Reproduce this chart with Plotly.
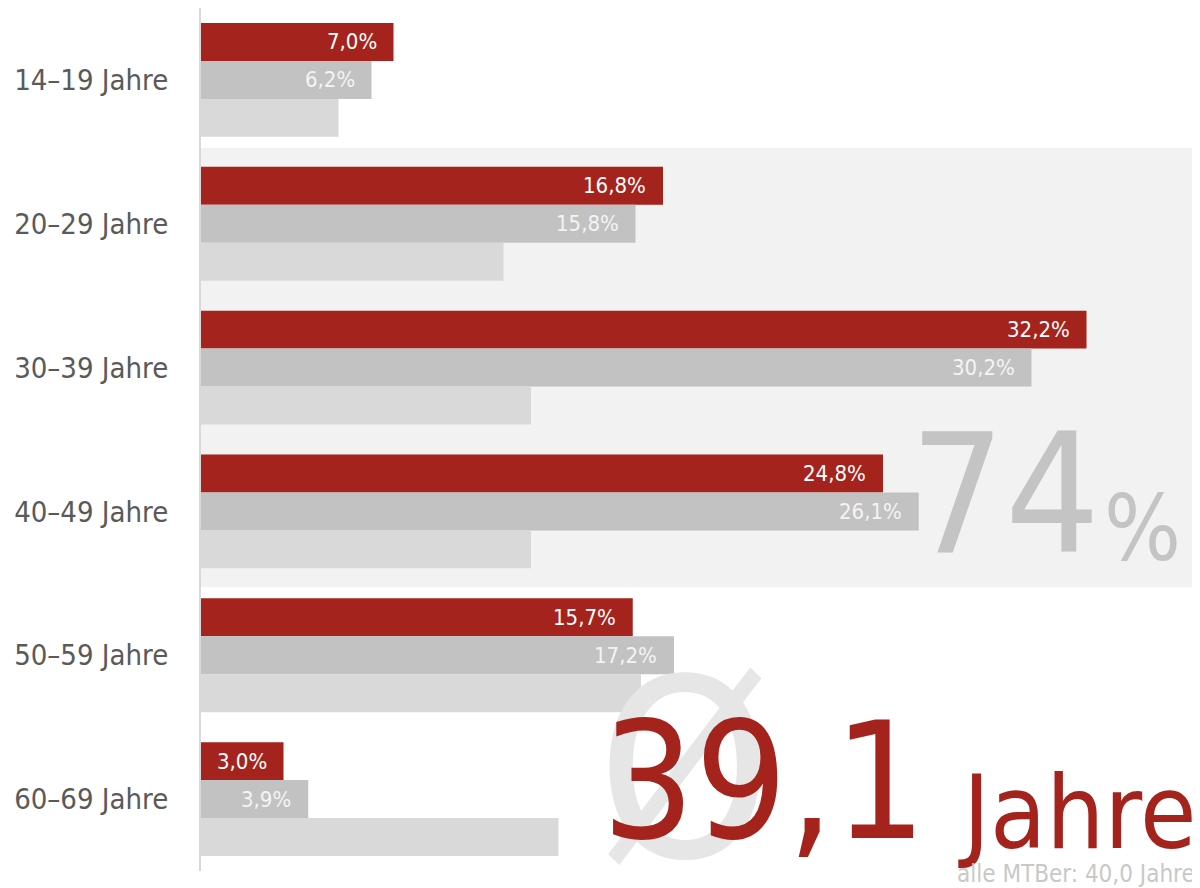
import plotly.graph_objects as go

categories = ["14–19 Jahre", "20–29 Jahre", "30–39 Jahre", "40–49 Jahre", "50–59 Jahre", "60–69 Jahre"]
series_red = [7.0, 16.8, 32.2, 24.8, 15.7, 3.0]
series_gray = [6.2, 15.8, 30.2, 26.1, 17.2, 3.9]
series_light = [5.0, 11.0, 12.0, 12.0, 16.0, 13.0]
labels_red = ["7,0%", "16,8%", "32,2%", "24,8%", "15,7%", "3,0%"]
labels_gray = ["6,2%", "15,8%", "30,2%", "26,1%", "17,2%", "3,9%"]

RED = "#a5231d"
GRAY = "#c2c2c2"
LIGHT = "#d9d9d9"
FONT = "DejaVu Sans Condensed, Roboto, sans-serif"

# the page body adds an 8px margin, so the figure is sized to fit the window
OFF = 8
W, H = 1200 - OFF, 888 - OFF
ML, MT = 201 - OFF, 0
MR, MB = 0, 17
PW, PH = W - ML - MR, H - MT - MB
SCALE = 27.5  # px per percent
XMAX = PW / SCALE

def px(x):  # page pixel -> paper x
    return (x - OFF - ML) / PW

def py(y):  # page pixel -> paper y
    return 1 - (y - OFF - MT) / PH

fig = go.Figure()
for vals, col in [(series_red, RED), (series_gray, GRAY), (series_light, LIGHT)]:
    fig.add_trace(go.Bar(y=categories, x=vals, orientation="h", marker=dict(color=col, line=dict(width=0)),
                         hoverinfo="skip", showlegend=False))

annotations = []
annotations.append(dict(x=px(685), y=py(770), xref="paper", yref="paper", text="Ø", showarrow=False,
                        xanchor="center", yanchor="middle", font=dict(family=FONT, size=248, color="#e6e6e6")))

off = (1 - 0.2083) / 3
for i in range(len(categories)):
    annotations.append(dict(x=series_red[i], y=i - off, xref="x", yref="y", text=labels_red[i],
                            xanchor="right", yanchor="middle", xshift=-15, showarrow=False,
                            font=dict(family=FONT, size=22, color="white")))
    annotations.append(dict(x=series_gray[i], y=i, xref="x", yref="y", text=labels_gray[i],
                            xanchor="right", yanchor="middle", xshift=-15, showarrow=False,
                            font=dict(family=FONT, size=22, color="#f4f4f4")))

annotations.append(dict(x=px(1102), y=py(494), xref="paper", yref="paper", text="74", showarrow=False,
                        xanchor="right", yanchor="middle", font=dict(family=FONT, size=166, color="#c4c4c4")))
annotations.append(dict(x=px(1183), y=py(528), xref="paper", yref="paper", text="%", showarrow=False,
                        xanchor="right", yanchor="middle", font=dict(family=FONT, size=90, color="#c4c4c4")))
annotations.append(dict(x=px(928), y=py(782), xref="paper", yref="paper", text="39,1", showarrow=False,
                        xanchor="right", yanchor="middle", font=dict(family=FONT, size=162, color=RED)))
annotations.append(dict(x=px(1198), y=py(812), xref="paper", yref="paper", text="Jahre", showarrow=False,
                        xanchor="right", yanchor="middle", font=dict(family=FONT, size=102, color=RED)))
annotations.append(dict(x=px(1197), y=py(874), xref="paper", yref="paper", text="alle MTBer: 40,0 Jahre",
                        showarrow=False, xanchor="right", yanchor="middle",
                        font=dict(family=FONT, size=24, color="#c8c8c8")))

shapes = [dict(type="rect", xref="x", yref="y", x0=0, x1=(1195 - OFF - ML) / SCALE, y0=0.472, y1=3.528,
               fillcolor="#f2f2f2", line=dict(width=0), layer="below")]

fig.update_layout(
    width=W, height=H, margin=dict(l=ML, r=MR, t=MT, b=MB, autoexpand=False),
    paper_bgcolor="white", plot_bgcolor="white",
    barmode="group", bargap=0.2083, bargroupgap=0,
    xaxis=dict(range=[0, XMAX], showgrid=False, zeroline=False, showticklabels=False, fixedrange=True,
               automargin=False),
    yaxis=dict(autorange="reversed", showgrid=False, zeroline=False, showline=True, linecolor="#d9d9d9",
               linewidth=2, ticks="outside", ticklen=25, tickcolor="rgba(0,0,0,0)", automargin=False,
               tickfont=dict(family=FONT, size=29, color="#5a5a5a"), fixedrange=True),
    annotations=annotations, shapes=shapes,
)
fig.write_html("out.html")
